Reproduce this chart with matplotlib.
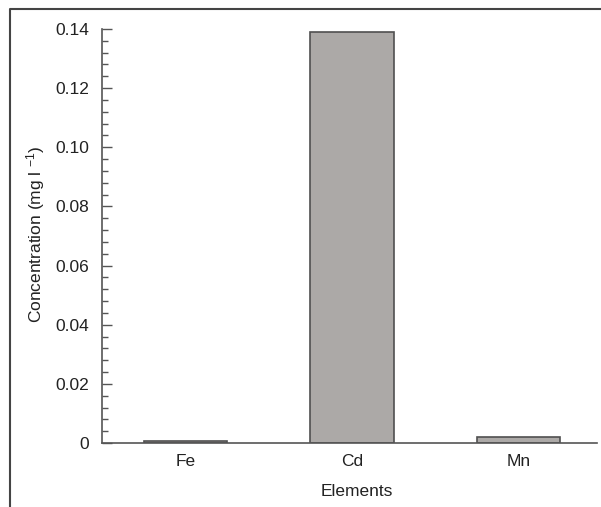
import matplotlib
matplotlib.use("Agg")
import matplotlib.pyplot as plt
from matplotlib.lines import Line2D
from matplotlib.ticker import MultipleLocator, FuncFormatter

plt.rcParams["font.family"] = ["Liberation Sans", "DejaVu Sans"]
plt.rcParams["mathtext.fontset"] = "custom"
plt.rcParams["mathtext.rm"] = "Liberation Sans"
plt.rcParams["mathtext.default"] = "regular"

# Data
elements = ["Fe", "Cd", "Mn"]
concentration = [0.0008, 0.139, 0.0021]

fig = plt.figure(figsize=(6.01, 5.07), dpi=100)
ax = fig.add_axes([102 / 601, 64 / 507, 495 / 601, 414 / 507])

# outer frame (left and top edges only visible)
fx = 10 / 601
fy = 1 - 9 / 507
fig.add_artist(Line2D([fx, fx, 1], [0, fy, fy], transform=fig.transFigure,
                      color="#444444", lw=1.5))

x = range(len(elements))
ax.bar(x, concentration, width=0.5, color="#aca9a7", edgecolor="#505050", linewidth=1.2)

ax.set_xlim(-0.5, 2.47)
ax.set_ylim(0, 0.14)
ax.set_xticks(list(x))
ax.set_xticklabels(elements)
ax.yaxis.set_major_locator(MultipleLocator(0.02))
ax.yaxis.set_minor_locator(MultipleLocator(0.004))
ax.yaxis.set_major_formatter(FuncFormatter(lambda v, p: "0" if v == 0 else f"{v:.2f}"))

ax.tick_params(axis="y", which="major", direction="in", length=7, width=1, color="#555555",
               labelsize=12.5, pad=9, labelcolor="#222222")
ax.tick_params(axis="y", which="minor", direction="in", length=4, width=1, color="#555555")
ax.tick_params(axis="x", length=0, labelsize=12.5, pad=8, labelcolor="#222222")

for s in ["top", "right"]:
    ax.spines[s].set_visible(False)
for s in ["left", "bottom"]:
    ax.spines[s].set_color("#555555")
    ax.spines[s].set_linewidth(1.2)

fig.text(357 / 601, 1 - 492 / 507, "Elements", fontsize=12.5, color="#222222",
         ha="center", va="center")
fig.text(36 / 601, 1 - 234 / 507, r"Concentration (mg l $^{-1}$)", fontsize=12.5,
         color="#222222", rotation=90, ha="center", va="center")

fig.savefig("out.png", dpi=100)
